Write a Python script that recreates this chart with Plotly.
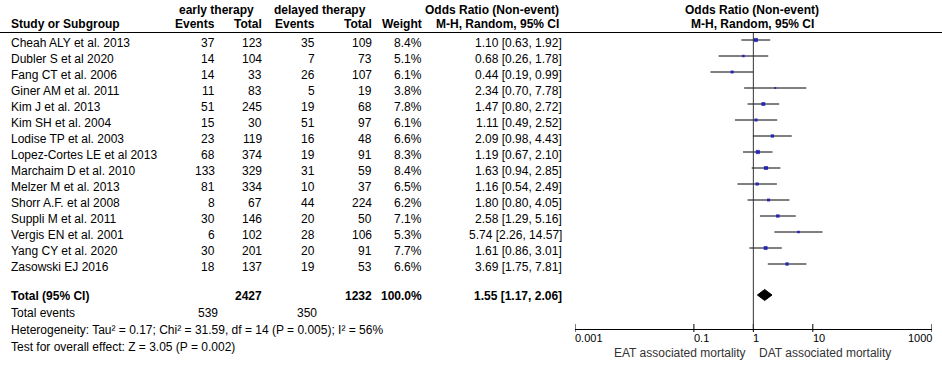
import math
import plotly.graph_objects as go

# ---------------- data ----------------
studies = ["Cheah ALY et al. 2013", "Dubler S et al 2020", "Fang CT et al. 2006",
           "Giner AM et al. 2011", "Kim J et al. 2013", "Kim SH et al. 2004",
           "Lodise TP et al. 2003", "Lopez-Cortes LE et al 2013", "Marchaim D et al. 2010",
           "Melzer M et al. 2013", "Shorr A.F. et al 2008", "Suppli M et al. 2011",
           "Vergis EN et al. 2001", "Yang CY et al. 2020", "Zasowski EJ 2016"]
early_events = [37, 14, 14, 11, 51, 15, 23, 68, 133, 81, 8, 30, 6, 30, 18]
early_total = [123, 104, 33, 83, 245, 30, 119, 374, 329, 334, 67, 146, 102, 201, 137]
delayed_events = [35, 7, 26, 5, 19, 51, 16, 19, 31, 10, 44, 20, 28, 20, 19]
delayed_total = [109, 73, 107, 19, 68, 97, 48, 91, 59, 37, 224, 50, 106, 91, 53]
weights = [8.4, 5.1, 6.1, 3.8, 7.8, 6.1, 6.6, 8.3, 8.4, 6.5, 6.2, 7.1, 5.3, 7.7, 6.6]
or_est = [1.10, 0.68, 0.44, 2.34, 1.47, 1.11, 2.09, 1.19, 1.63, 1.16, 1.80, 2.58, 5.74, 1.61, 3.69]
or_lo = [0.63, 0.26, 0.19, 0.70, 0.80, 0.49, 0.98, 0.67, 0.94, 0.54, 0.80, 1.29, 2.26, 0.86, 1.75]
or_hi = [1.92, 1.78, 0.99, 7.78, 2.72, 2.52, 4.43, 2.10, 2.85, 2.49, 4.05, 5.16, 14.57, 3.01, 7.81]

total_early = 2427
total_delayed = 1232
total_weight = "100.0%"
total_or, total_lo, total_hi = 1.55, 1.17, 2.06
events_early_sum = 539
events_delayed_sum = 350
heterogeneity = "Heterogeneity: Tau² = 0.17; Chi² = 31.59, df = 14 (P = 0.005); I² = 56%"
overall = "Test for overall effect: Z = 3.05 (P = 0.002)"

tick_vals = [0.001, 0.1, 1, 10, 1000]
tick_text = ["0.001", "0.1", "1", "10", "1000"]

# ---------------- layout helpers ----------------
W, H = 942, 368
ROW0, ROWH = 40.0, 16.0  # pixel of first row and row spacing


def idx(p):  # pixel -> row index units
    return (p - ROW0) / ROWH


def px(x):
    return x / W


def py(y):
    return 1 - y / H


FONT = "Liberation Sans, Arial, sans-serif"
FS = 12
BLACK = "#000000"

fig = go.Figure()

rows = list(range(len(studies)))

# CI lines
cx, cy = [], []
for r, lo, hi in zip(rows, or_lo, or_hi):
    cx += [lo, hi, None]
    cy += [r, r, None]
fig.add_trace(go.Scatter(x=cx, y=cy, mode="lines", line=dict(color=BLACK, width=1),
                         hoverinfo="skip", showlegend=False))

# point estimates
fig.add_trace(go.Scatter(x=or_est, y=rows, mode="markers",
                         marker=dict(symbol="square", color="#0000C0",
                                     size=[w * 0.5 for w in weights], line=dict(width=0)),
                         showlegend=False))

# total diamond
tr = idx(295)
dh = 5.5 / ROWH
fig.add_trace(go.Scatter(x=[total_lo, total_or, total_hi, total_or, total_lo],
                         y=[tr, tr - dh, tr, tr + dh, tr], mode="lines", fill="toself",
                         fillcolor=BLACK, line=dict(color=BLACK, width=1), showlegend=False))

# tick marks crossing the axis line
axis_px = 328.5
ax_i = idx(axis_px)
tx, ty = [], []
for v in tick_vals:
    tx += [v, v, None]
    ty += [ax_i - 4.5 / ROWH, ax_i + 3.5 / ROWH, None]
fig.add_trace(go.Scatter(x=tx, y=ty, mode="lines", line=dict(color=BLACK, width=1),
                         hoverinfo="skip", showlegend=False))

# vertical line at OR = 1
fig.add_trace(go.Scatter(x=[1, 1], y=[idx(32.5), ax_i], mode="lines",
                         line=dict(color="#333333", width=1), hoverinfo="skip", showlegend=False))

shapes = [dict(type="line", xref="paper", yref="paper", x0=0, x1=1, y0=py(32.5), y1=py(32.5),
               line=dict(color=BLACK, width=1))]

ann = []


def text(x, y, s, anchor="left", bold=False, color=BLACK, yshift=0, size=FS):
    ann.append(dict(x=px(x), y=y, xref="paper", yref="paper", text=("<b>%s</b>" % s) if bold else s,
                    showarrow=False, xanchor=anchor, yanchor="middle", yshift=yshift,
                    borderpad=0, font=dict(family=FONT, size=size, color=color)))


def rowy(i):  # row index -> paper y (same mapping as the y axis)
    return py(ROW0 + ROWH * i)


# headers
text(178, py(10), "early therapy", "left", True)
text(273, py(10), "delayed therapy", "left", True)
text(560, py(10), "Odds Ratio (Non-event)", "right", True)
text(752, py(10), "Odds Ratio (Non-event)", "center", True)
text(10, py(24), "Study or Subgroup", "left", True)
text(216, py(24), "Events", "right", True)
text(263, py(24), "Total", "right", True)
text(316, py(24), "Events", "right", True)
text(373, py(24), "Total", "right", True)
text(423, py(24), "Weight", "right", True)
text(560, py(24), "M-H, Random, 95% CI", "right", True)
text(752, py(24), "M-H, Random, 95% CI", "center", True)

# study rows
for r in rows:
    yv = rowy(r)
    text(10, yv, studies[r], "left", yshift=-3)
    text(216, yv, str(early_events[r]), "right", yshift=-3)
    text(263, yv, str(early_total[r]), "right", yshift=-3)
    text(316, yv, str(delayed_events[r]), "right", yshift=-3)
    text(373, yv, str(delayed_total[r]), "right", yshift=-3)
    text(423, yv, "%.1f%%" % weights[r], "right", yshift=-3)
    text(563, yv, "%.2f [%.2f, %.2f]" % (or_est[r], or_lo[r], or_hi[r]), "right", yshift=-3)

# totals
ty_ = rowy(tr)
text(10, ty_, "Total (95% CI)", "left", True, yshift=-1)
text(263, ty_, str(total_early), "right", True, yshift=-1)
text(373, ty_, str(total_delayed), "right", True, yshift=-1)
text(423, ty_, total_weight, "right", True, yshift=-1)
text(563, ty_, "%.2f [%.2f, %.2f]" % (total_or, total_lo, total_hi), "right", True, yshift=-1)

text(10, py(313), "Total events", "left")
text(219, py(313), str(events_early_sum), "right")
text(318, py(313), str(events_delayed_sum), "right")
text(10, py(330), heterogeneity, "left")
text(10, py(347), overall, "left")

text(747, py(352.5), "EAT associated mortality", "right", color="#333333")
text(758, py(352.5), "DAT associated mortality", "left", color="#333333")

# tick labels (left-aligned at the tick, last one right-aligned)
for i, (v, t) in enumerate(zip(tick_vals, tick_text)):
    ann.append(dict(x=math.log10(v), y=py(338), xref="x", yref="paper", text=t,
                    showarrow=False, xanchor="right" if i == len(tick_vals) - 1 else "left",
                    yanchor="middle", borderpad=0, xshift=1 if i == len(tick_vals) - 1 else -1,
                    font=dict(family=FONT, size=11, color=BLACK)))

fig.update_layout(
    template="none",
    width=W, height=H, margin=dict(l=0, r=0, t=0, b=0, pad=0, autoexpand=False),
    paper_bgcolor="white", plot_bgcolor="white",
    shapes=shapes, annotations=ann, showlegend=False,
    font=dict(family=FONT, size=FS, color=BLACK),
    xaxis=dict(type="log", range=[-3, 3], domain=[px(575), px(931.7)],
               tickvals=tick_vals, showticklabels=False, ticks="", automargin=False,
               showgrid=False, zeroline=False, showline=True, linecolor=BLACK, linewidth=1,
               anchor="free", position=py(axis_px)),
    yaxis=dict(range=[idx(H), idx(0)], domain=[0, 1], visible=False, showgrid=False,
               zeroline=False, fixedrange=True, automargin=False),
)

fig.write_html("out.html", config={"displayModeBar": False},
               post_script="document.body.style.margin='0';document.body.style.padding='0';")
